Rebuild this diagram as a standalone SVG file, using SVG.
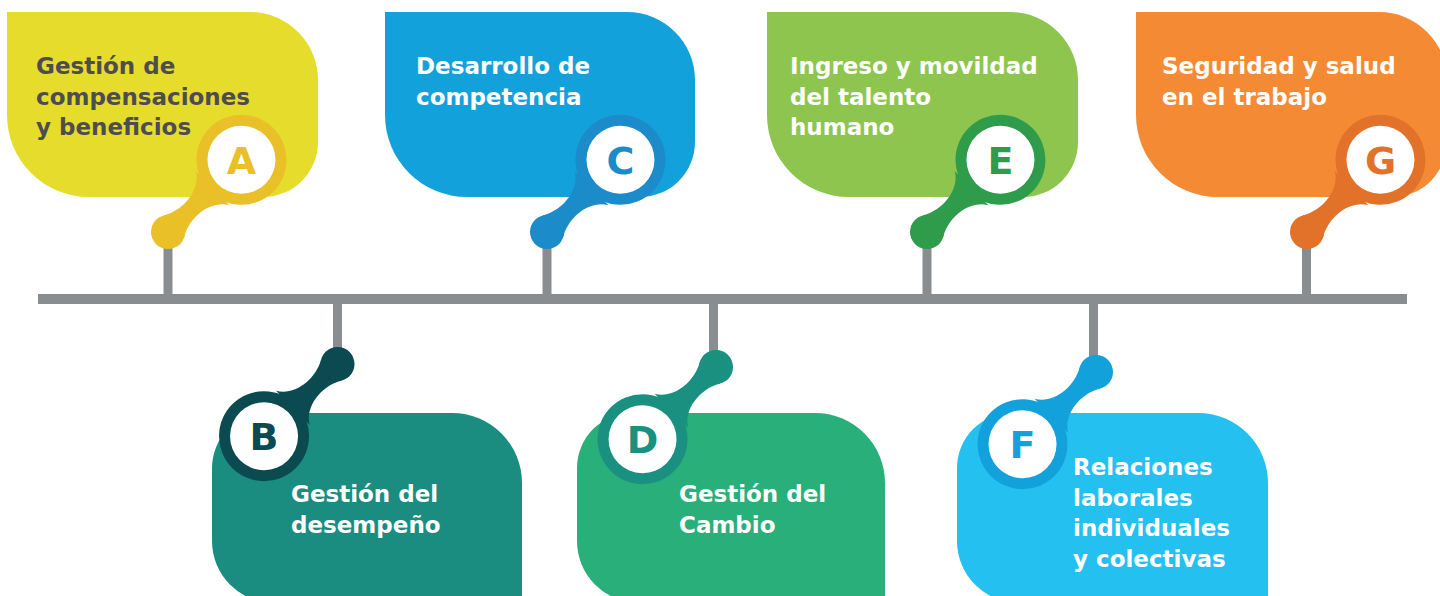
<svg xmlns="http://www.w3.org/2000/svg" xmlns:xlink="http://www.w3.org/1999/xlink" width="1440" height="596" viewBox="0 0 1440 596">
<style>
.t{font-family:"DejaVu Sans","Liberation Sans",sans-serif;font-weight:bold;font-size:23px;fill:#fff}
.dk{fill:#4D4D4F}
.L{font-family:"DejaVu Sans","Liberation Sans",sans-serif;font-weight:bold;font-size:38px;text-anchor:middle}
.gray{fill:#8A8D8F}
</style>
<defs>
<g id="lens">
<path d="M8.5,-14.7 C27.5,-3.7 53.5,-8 62.5,-24 L62.5,24 C53.5,8 27.5,3.7 8.5,14.7 Z"/>
<circle r="17"/>
<circle cx="103" r="45"/>
<circle cx="103" r="34" fill="#fff"/>
</g>
</defs>
<rect width="1440" height="596" fill="#fff"/>
<g id="connectors" class="gray">
<rect x="38" y="294" width="1369" height="10"/>
<rect x="163.5" y="232" width="9" height="66"/>
<rect x="542.5" y="232" width="9" height="66"/>
<rect x="922.5" y="232" width="9" height="66"/>
<rect x="1302" y="232" width="9" height="66"/>
<rect x="333" y="300" width="9" height="64"/>
<rect x="709" y="300" width="9" height="67"/>
<rect x="1089" y="300" width="9" height="72"/>
</g>
<g id="node-A">
<path d="M7,12 H250 A68,68 0 0 1 318,80 V142 A55,55 0 0 1 263,197 H89 A82,82 0 0 1 7,115 Z" fill="#E6DC2B"/>
<use xlink:href="#lens" transform="translate(168,232) rotate(-44.5)" fill="#E9C027"/>
<text class="L" x="241.5" y="174" fill="#E9C027">A</text>
<text class="t dk" x="36" y="74">Gestión de</text>
<text class="t dk" x="36" y="104.5">compensaciones</text>
<text class="t dk" x="36" y="135">y beneficios</text>
</g>
<g id="node-C">
<path d="M385,12 H627 A68,68 0 0 1 695,80 V142 A55,55 0 0 1 640,197 H467 A82,82 0 0 1 385,115 Z" fill="#13A1DC"/>
<use xlink:href="#lens" transform="translate(547,232) rotate(-44.5)" fill="#1B8BCA"/>
<text class="L" x="620.5" y="174" fill="#1B8BCA">C</text>
<text class="t" x="416" y="74">Desarrollo de</text>
<text class="t" x="416" y="104.5">competencia</text>
</g>
<g id="node-E">
<path d="M767,12 H1010 A68,68 0 0 1 1078,80 V142 A55,55 0 0 1 1023,197 H849 A82,82 0 0 1 767,115 Z" fill="#8DC54E"/>
<use xlink:href="#lens" transform="translate(927,232) rotate(-44.5)" fill="#2F9C4B"/>
<text class="L" x="1000.5" y="174" fill="#2F9C4B">E</text>
<text class="t" x="790" y="74">Ingreso y movildad</text>
<text class="t" x="790" y="104.5">del talento</text>
<text class="t" x="790" y="135">humano</text>
</g>
<g id="node-G">
<path d="M1136,12 H1379 A68,68 0 0 1 1447,80 V142 A55,55 0 0 1 1392,197 H1218 A82,82 0 0 1 1136,115 Z" fill="#F58A35"/>
<use xlink:href="#lens" transform="translate(1307,232) rotate(-44.5)" fill="#E2712A"/>
<text class="L" x="1380.5" y="174" fill="#E2712A">G</text>
<text class="t" x="1162" y="74">Seguridad y salud</text>
<text class="t" x="1162" y="104.5">en el trabajo</text>
</g>
<g id="node-B">
<path d="M267,413 H452 A70,70 0 0 1 522,483 V603 H274 A62,62 0 0 1 212,541 V468 A55,55 0 0 1 267,413 Z" fill="#1A8D80"/>
<use xlink:href="#lens" transform="translate(337.5,364) rotate(135.5)" fill="#0B4A51"/>
<text class="L" x="264" y="450" fill="#0B4A51">B</text>
<text class="t" x="291" y="502">Gestión del</text>
<text class="t" x="291" y="532.5">desempeño</text>
</g>
<g id="node-D">
<path d="M632,413 H815 A70,70 0 0 1 885,483 V603 H639 A62,62 0 0 1 577,541 V468 A55,55 0 0 1 632,413 Z" fill="#29AF79"/>
<use xlink:href="#lens" transform="translate(716,367) rotate(135.5)" fill="#1A9080"/>
<text class="L" x="642.5" y="453" fill="#1A9080">D</text>
<text class="t" x="679" y="502">Gestión del</text>
<text class="t" x="679" y="532.5">Cambio</text>
</g>
<g id="node-F">
<path d="M1012,413 H1198 A70,70 0 0 1 1268,483 V603 H1019 A62,62 0 0 1 957,541 V468 A55,55 0 0 1 1012,413 Z" fill="#23C0F0"/>
<use xlink:href="#lens" transform="translate(1096,372) rotate(135.5)" fill="#13A1DC"/>
<text class="L" x="1022.5" y="458" fill="#13A1DC">F</text>
<text class="t" x="1073" y="475">Relaciones</text>
<text class="t" x="1073" y="505.5">laborales</text>
<text class="t" x="1073" y="536">individuales</text>
<text class="t" x="1073" y="566.5">y colectivas</text>
</g>
</svg>
